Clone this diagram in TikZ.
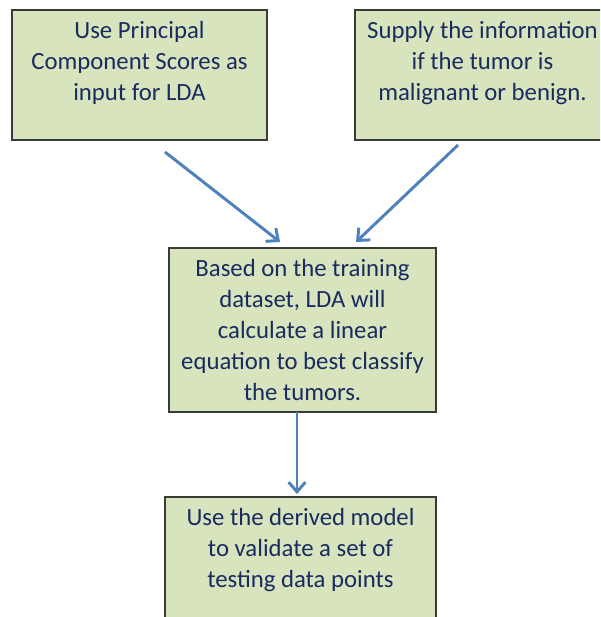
\documentclass[tikz,border=0pt]{standalone}
\usepackage{fontspec}
\setmainfont{Carlito}
\usetikzlibrary{arrows.meta,calc}
\definecolor{ldaFill}{HTML}{D7E4BD}
\definecolor{ldaEdge}{HTML}{3A3A3A}
\definecolor{ldaInk}{HTML}{1A2B5F}
\definecolor{ldaArrow}{HTML}{4F81BD}
\tikzset{
  lda diagram/.style={
    x=0.025cm, y=-0.025cm,
    >={Straight Barb[length=0.24cm,width=0.42cm]},
    every node/.style={font=\fontsize{17.6}{22.1}\selectfont,
      text=ldaInk, inner sep=0pt, outer sep=0pt}
  },
  lda box/.style={draw=ldaEdge, fill=ldaFill, line width=1.1pt},
  lda arrow/.style={->, draw=ldaArrow, line width=2.1pt}
}
\newcommand{\LdaStepText}[3]{%
  \parbox[c][#2][t]{#1}{\centering\vspace*{0.28cm}#3}%
}

\begin{document}
\begin{tikzpicture}[lda diagram]
    \clip (0,0) rectangle (600,617);
    \node[lda box] (pca) at (139.5,75)
      {\LdaStepText{6.375cm}{3.25cm}{Use Principal\\Component Scores as\\input for LDA}};
    \node[lda box] (label) at (482.5,75)
      {\LdaStepText{6.375cm}{3.25cm}{Supply the information\\if the tumor is\\malignant or benign.}};
    \node[lda box] (lda) at (302.5,330)
      {\LdaStepText{6.675cm}{4.1cm}{Based on the training\\dataset, LDA will\\calculate a linear\\equation to best classify\\the tumors.}};
    \node[lda box] (test) at (300.5,562)
      {\LdaStepText{6.775cm}{3.25cm}{Use the derived model\\to validate a set of\\testing data points}};
    \draw[lda arrow] ($(pca.south)+(25.5,12)$) -- ($(lda.north)+(-22.5,-6)$);
    \draw[lda arrow] ($(label.south)+(-24.5,5)$) -- ($(lda.north)+(53.5,-6)$);
    \draw[lda arrow] ($(lda.south)+(-5.5,0)$) -- ($(test.north)+(-3.5,-3)$);
  \end{tikzpicture}
\end{document}
